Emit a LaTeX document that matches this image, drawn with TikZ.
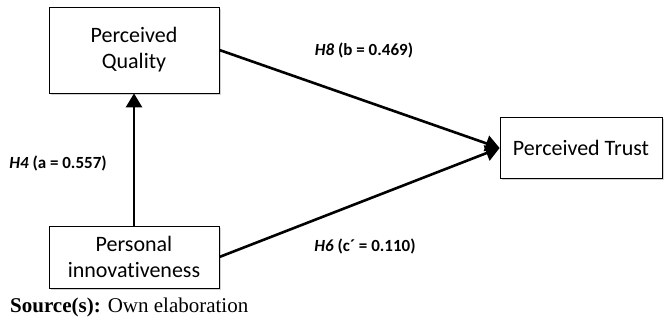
\documentclass[tikz,border=0pt]{standalone}
\usepackage{fontspec}
\setmainfont{Carlito}[Ligatures=CommonOff]
\newfontfamily\srcfont{Liberation Serif}
\usetikzlibrary{%
  positioning
 ,arrows.meta
 ,shadows
}
\tikzstyle{var}=[draw=black,fill=white,thick,align=center,inner sep=2pt,
  drop shadow={shadow xshift=2pt,shadow yshift=-2pt,fill=black!35},
  font=\fontsize{22}{26}\selectfont]
\tikzstyle{path}=[line width=2.6pt,-{Triangle[width=16pt,length=14pt]}]
\tikzstyle{lbl}=[font=\fontsize{17}{19}\selectfont\bfseries,inner sep=1pt]

\begin{document}
\begin{tikzpicture}[x=1pt,y=1pt]
    \useasboundingbox (0,0) rectangle (664,324);
    \node[var,minimum width=170pt,minimum height=86pt](quality)at(134,274)
      {Perceived\\Quality};
    \node[var,minimum width=170pt,minimum height=62pt](innov)at(134,67)
      {Personal\\innovativeness};
    \node[var,minimum width=162pt,minimum height=61pt](trust)at(581,176)
      {Perceived Trust};
    %
    \draw[path] (innov) -- (quality);
    \draw[path] (quality.east) -- (trust.west);
    \draw[path] (innov.east) -- (trust.west);
    %
    \node[lbl](h4)at(58,161){\textit{H4} (a = 0.557)};
    \node[lbl](h8)at(364,274){\textit{H8} (b = 0.469)};
    \node[lbl](h6)at(365,78){\textit{H6} (c´ = 0.110)};
    \node[anchor=west,inner sep=0pt,font=\srcfont\fontsize{21}{24}\selectfont]
      (src)at(10,17){\textbf{Source(s):} Own elaboration};
\end{tikzpicture}
\end{document}
